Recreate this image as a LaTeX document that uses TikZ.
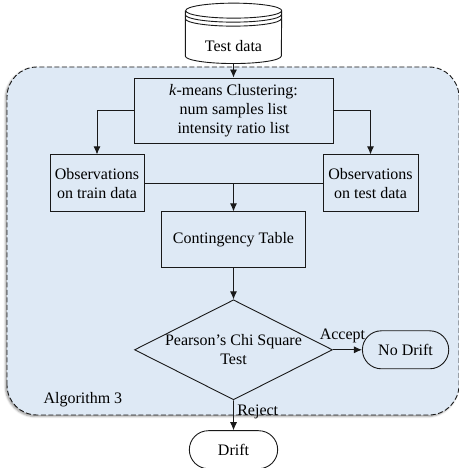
\documentclass[tikz,border=0pt]{standalone}
\usepackage{fontspec}
\setmainfont{Liberation Serif}
\usetikzlibrary{positioning, shapes.geometric, shapes.misc, arrows.meta, shadows.blur}
\definecolor{algblue}{RGB}{222,233,245}
\tikzstyle{box} = [rectangle, draw=black!90, line width=0.9pt, align=center]
\tikzstyle{decision} = [diamond, draw=black!90, line width=0.9pt, align=center, aspect=2, inner sep=-4pt, minimum width=198pt, minimum height=100pt]
\tikzstyle{term} = [rounded rectangle, draw=black!90, line width=0.9pt, minimum width=93pt, minimum height=38pt]
\tikzstyle{line} = [draw=black!90, line width=0.9pt]
\tikzstyle{arrow} = [line, -{Latex[length=8pt,width=7pt]}]

\begin{document}
\begin{tikzpicture}[x=1pt, y=1pt, font=\fontsize{16}{19}\selectfont]
    \useasboundingbox (0,0) rectangle (458,468);

    % algorithm frame
    \draw[line, dash pattern=on 5pt off 2.5pt, rounded corners=30pt, fill=algblue,
          blur shadow={shadow xshift=-1.5pt, shadow yshift=-1.5pt, shadow blur radius=2pt}]
          (7,53) rectangle (459,401);

    \node [box, minimum width=199pt, minimum height=65pt] (kmeans) at (233.5,357.5)
          {\emph{k}-means Clustering:\\num samples list\\intensity ratio list};
    \node [above=14pt of kmeans, minimum width=96pt, minimum height=60pt, inner sep=0pt,
           text height=37pt, text depth=0pt] (data) {Test data};

    % database symbol round the input
    \draw[line] ([yshift=-7.5pt]data.north west) -- ([yshift=7.5pt]data.south west)
          arc[start angle=180, end angle=360, x radius=48pt, y radius=7.5pt]
          -- ([yshift=-7.5pt]data.north east)
          arc[start angle=0, end angle=180, x radius=48pt, y radius=7.5pt]
          arc[start angle=180, end angle=360, x radius=48pt, y radius=7.5pt];
    \foreach \d in {4,8}
        \draw[line] ([yshift={-(7.5+\d)*1pt}]data.north west)
              arc[start angle=180, end angle=360, x radius=48pt, y radius=7.5pt];

    \node [box, below=11pt of kmeans, xshift=-136.5pt, minimum width=94pt, minimum height=57pt] (train)
          {Observations\\on train data};
    \node [box, below=11pt of kmeans, xshift=137pt, minimum width=95pt, minimum height=57pt] (test)
          {Observations\\on test data};
    \node [box, below=68pt of kmeans, minimum width=144pt, minimum height=56pt] (cont)
          {Contingency Table};
    \node [decision, below=31pt of cont] (pearson) {Pearson's Chi Square\\Test};
    \node [term, right=29pt of pearson] (nodrift) {No Drift};
    \node [term, below=30pt of pearson, minimum width=95pt] (drift) {Drift};
    \node [anchor=west] (algname) at (40,68) {Algorithm 3};

    \draw[arrow] (data) -- (kmeans);
    \draw[arrow] (kmeans.west) -| (train);
    \draw[arrow] (kmeans.east) -| (test);
    \draw[line] (train) -- (test);
    \draw[arrow] (train.east -| cont.north) -- (cont);
    \draw[arrow] (cont) -- (pearson);
    \draw[arrow] (pearson) -- node[above, xshift=-5pt, yshift=3pt] {Accept} (nodrift);
    \draw[arrow] (pearson) -- node[right, pos=0.4] {Reject} (drift);

\end{tikzpicture}
\end{document}
